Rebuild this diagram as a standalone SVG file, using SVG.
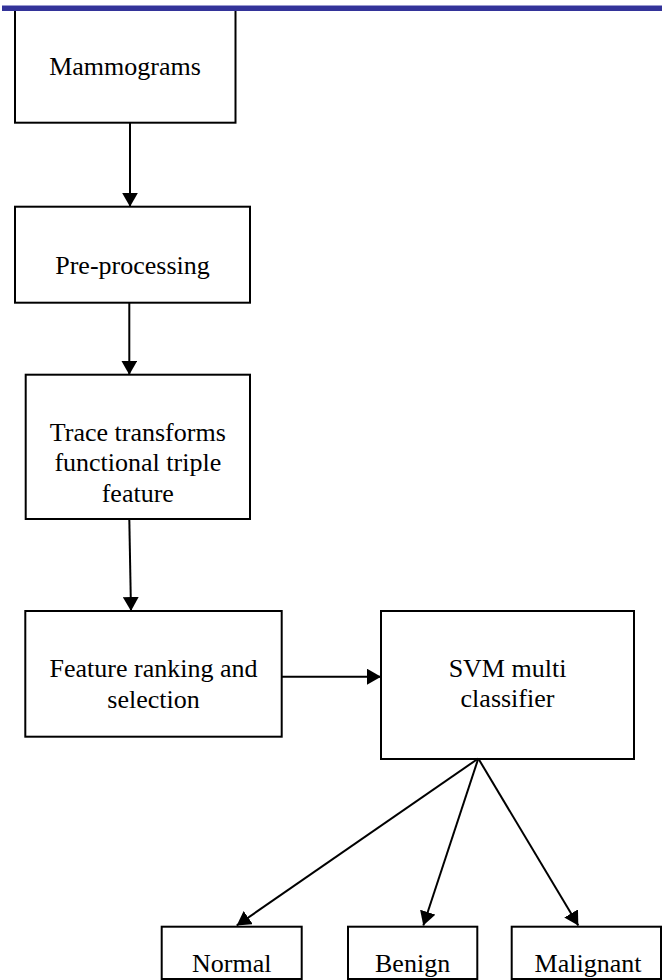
<svg xmlns="http://www.w3.org/2000/svg" width="662" height="980" viewBox="0 0 662 980">
  <style>
    .box { fill: #ffffff; stroke: #000000; stroke-width: 2; }
    .lbl { font-family: "Liberation Serif", "Times New Roman", serif; font-size: 26px; fill: #000000; text-anchor: middle; }
    .edge { fill: none; stroke: #000000; stroke-width: 2; marker-end: url(#head); }
  </style>
  <defs>
    <marker id="head" markerUnits="userSpaceOnUse" markerWidth="15" markerHeight="16" refX="14" refY="8" orient="auto">
      <path d="M0,0 L14,8 L0,16 Z" fill="#000000"/>
    </marker>
  </defs>

  <rect width="662" height="980" fill="#ffffff"/>

  <g id="mammograms">
    <rect class="box" x="15" y="8" width="220.5" height="114.7"/>
    <text class="lbl" x="125" y="74.5">Mammograms</text>
  </g>

  <!-- page header rule -->
  <g id="header-rule">
    <rect x="2" y="5" width="660" height="6" fill="#333399"/>
    <rect x="2" y="5" width="660" height="1" fill="#9a9ad0"/>
  </g>

  <g id="preprocessing">
    <rect class="box" x="15" y="206.7" width="235" height="96"/>
    <text class="lbl" x="132.5" y="274">Pre-processing</text>
  </g>

  <g id="trace">
    <rect class="box" x="25.7" y="374.7" width="224.3" height="144.3"/>
    <text class="lbl" x="137.8" y="440.7">Trace transforms</text>
    <text class="lbl" x="137.8" y="471">functional triple</text>
    <text class="lbl" x="137.8" y="501.7">feature</text>
  </g>

  <g id="ranking">
    <rect class="box" x="25.3" y="611" width="256.4" height="125.7"/>
    <text class="lbl" x="153.5" y="676.7">Feature ranking and</text>
    <text class="lbl" x="153.5" y="707.7">selection</text>
  </g>

  <g id="svm">
    <rect class="box" x="381" y="611" width="253" height="148"/>
    <text class="lbl" x="507.5" y="676.7">SVM multi</text>
    <text class="lbl" x="507.5" y="706.7">classifier</text>
  </g>

  <g id="normal">
    <rect class="box" x="161.7" y="926.7" width="140" height="52.3"/>
    <text class="lbl" x="231.7" y="971.7">Normal</text>
  </g>

  <g id="benign">
    <rect class="box" x="348" y="926.7" width="129.3" height="52.3"/>
    <text class="lbl" x="412.6" y="971.7">Benign</text>
  </g>

  <g id="malignant">
    <rect class="box" x="511.7" y="926.7" width="149.3" height="52.3"/>
    <text class="lbl" x="588" y="971.7">Malignant</text>
  </g>

  <g id="connectors">
    <line class="edge" x1="130" y1="122.7" x2="130" y2="206.7"/>
    <line class="edge" x1="129.3" y1="302.7" x2="129.3" y2="374.7"/>
    <line class="edge" x1="129.3" y1="519" x2="131" y2="611"/>
    <line class="edge" x1="281.7" y1="676.7" x2="381" y2="676.7"/>
    <line class="edge" x1="478.3" y1="758.5" x2="236.7" y2="925.5"/>
    <line class="edge" x1="478.3" y1="758.5" x2="423.3" y2="925.5"/>
    <line class="edge" x1="478.3" y1="758.5" x2="578.3" y2="925.5"/>
  </g>
</svg>
